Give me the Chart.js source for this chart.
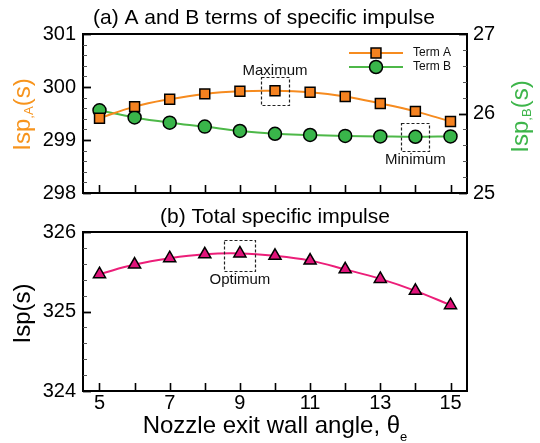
<!DOCTYPE html>
<html>
<head>
<meta charset="utf-8">
<script src="https://cdn.jsdelivr.net/npm/chart.js@4/dist/chart.umd.min.js"></script>
<style>
  html, body { margin: 0; padding: 0; background: #fff; }
  #wrap { position: relative; width: 540px; height: 443px; }
  #topBox { position: absolute; left: 0; top: 0; width: 540px; height: 215px; }
  #botBox { position: absolute; left: 0; top: 200px; width: 540px; height: 243px; }
</style>
</head>
<body>
<div id="wrap">
  <div id="topBox"><canvas id="topChart"></canvas></div>
  <div id="botBox"><canvas id="botChart"></canvas></div>
</div>
<script>
// Nozzle exit wall angle (deg)
const angles = [5, 6, 7, 8, 9, 10, 11, 12, 13, 14, 15];
// Term A of specific impulse (s), left axis of panel (a)
const termA = [299.41, 299.63, 299.77, 299.87, 299.92, 299.93, 299.90, 299.82, 299.69, 299.54, 299.35];
// Term B of specific impulse (s), right axis of panel (a)
const termB = [26.04, 25.95, 25.885, 25.835, 25.78, 25.745, 25.73, 25.718, 25.712, 25.707, 25.712];
// Total specific impulse (s), panel (b)
const totalIsp = [325.47, 325.59, 325.67, 325.72, 325.73, 325.70, 325.64, 325.53, 325.41, 325.26, 325.08];

const xTickLabels = [5, 7, 9, 11, 13, 15];
const yTicksA = [298, 299, 300, 301];
const yTicksB = [25, 26, 27];
const yTicksTotal = [324, 325, 326];

const FONT = "'Liberation Sans', Arial, Helvetica, sans-serif";
const ORANGE_LINE = '#F68B1F', ORANGE_FILL = '#F58220';
const GREEN_LINE = '#4DB848', GREEN_FILL = '#39B54A';
const PINK_LINE = '#EC1E79', PINK_FILL = '#E0137A';
const X_MIN = 4.53, X_MAX = 15.47;

// text made of runs; each run has its own size and baseline shift
function runsWidth(ctx, runs) {
  let w = 0;
  runs.forEach(r => { ctx.font = r.size + 'px ' + FONT; w += ctx.measureText(r.t).width; });
  return w;
}
function drawRuns(ctx, runs, x, y, color) {
  ctx.fillStyle = color;
  ctx.textBaseline = 'alphabetic';
  ctx.textAlign = 'left';
  runs.forEach(r => {
    ctx.font = r.size + 'px ' + FONT;
    ctx.fillText(r.t, x, y + (r.dy || 0));
    x += ctx.measureText(r.t).width;
  });
}
function drawHorizontalTitle(ctx, runs, cx, baseline, color) {
  const w = runsWidth(ctx, runs);
  drawRuns(ctx, runs, cx - w / 2, baseline, color);
}
function drawVerticalTitle(ctx, runs, baselineX, cy, color) {
  const w = runsWidth(ctx, runs);
  ctx.save();
  ctx.translate(baselineX, cy);
  ctx.rotate(-Math.PI / 2);
  drawRuns(ctx, runs, -w / 2, 0, color);
  ctx.restore();
}

function drawFrame(ctx, area) {
  ctx.save();
  ctx.strokeStyle = '#000';
  ctx.lineWidth = 2;
  ctx.strokeRect(area.left, area.top, area.right - area.left, area.bottom - area.top);
  ctx.restore();
}

// inward tick marks along the bottom edge
function drawXTicks(ctx, xs, area) {
  ctx.save();
  ctx.strokeStyle = '#000';
  ctx.lineWidth = 1.6;
  angles.forEach(v => {
    const px = Math.round(xs.getPixelForValue(v)) + 0.5;
    ctx.beginPath();
    ctx.moveTo(px, area.bottom);
    ctx.lineTo(px, area.bottom - 8);
    ctx.stroke();
  });
  ctx.restore();
}

// inward major/minor ticks along a vertical edge (minor every 0.2)
function drawYTicks(ctx, ys, edgeX, dir) {
  ctx.save();
  ctx.strokeStyle = '#000';
  const n = Math.round((ys.max - ys.min) / 0.2);
  for (let i = 0; i <= n; i++) {
    const v = ys.min + i * 0.2;
    const major = i % 5 === 0;
    const py = Math.round(ys.getPixelForValue(v)) + 0.5;
    ctx.lineWidth = major ? 1.8 : 1;
    ctx.strokeStyle = major ? '#000' : '#555';
    ctx.beginPath();
    ctx.moveTo(edgeX, py);
    ctx.lineTo(edgeX + dir * (major ? 8 : 4), py);
    ctx.stroke();
  }
  ctx.restore();
}

function dashedBox(ctx, cx, cy, size) {
  ctx.save();
  ctx.strokeStyle = '#222';
  ctx.lineWidth = 1.2;
  ctx.setLineDash([3, 2]);
  ctx.strokeRect(Math.round(cx - size / 2) + 0.5, Math.round(cy - size / 2) + 0.5, size, size);
  ctx.restore();
}

function note(ctx, text, cx, y) {
  ctx.save();
  ctx.font = '15px ' + FONT;
  ctx.fillStyle = '#111';
  ctx.textAlign = 'center';
  ctx.textBaseline = 'alphabetic';
  ctx.fillText(text, cx, y);
  ctx.restore();
}

function legendMarker(ctx, style, x, y, r, fill) {
  ctx.save();
  ctx.fillStyle = fill;
  ctx.strokeStyle = '#000';
  ctx.lineWidth = 1.5;
  ctx.beginPath();
  if (style === 'rect') {
    const s = r * Math.SQRT1_2;
    ctx.rect(x - s, y - s, 2 * s, 2 * s);
  } else {
    ctx.arc(x, y, r, 0, Math.PI * 2);
  }
  ctx.fill();
  ctx.stroke();
  ctx.restore();
}

const topDecor = {
  id: 'topDecor',
  afterDatasetsDraw(chart) {
    const ctx = chart.ctx, area = chart.chartArea;
    const xs = chart.scales.x, ya = chart.scales.y, yb = chart.scales.y1;
    drawFrame(ctx, area);
    drawXTicks(ctx, xs, area);
    drawYTicks(ctx, ya, area.left, 1);
    drawYTicks(ctx, yb, area.right, -1);

    // maximum of term A
    const iMax = termA.indexOf(Math.max(...termA));
    const mx = xs.getPixelForValue(angles[iMax]), my = ya.getPixelForValue(termA[iMax]);
    dashedBox(ctx, mx, my, 28);
    note(ctx, 'Maximum', mx, my - 16);

    // minimum of term B
    const iMin = termB.indexOf(Math.min(...termB));
    const nx = xs.getPixelForValue(angles[iMin]), ny = yb.getPixelForValue(termB[iMin]);
    dashedBox(ctx, nx, ny, 28);
    note(ctx, 'Minimum', nx, ny + 27);

    // legend
    const lx0 = 349, lx1 = 403, mxL = 376, tx = 413;
    const rows = [
      { label: 'Term A', line: ORANGE_LINE, fill: ORANGE_FILL, style: 'rect', r: 7, y: 53 },
      { label: 'Term B', line: GREEN_LINE, fill: GREEN_FILL, style: 'circle', r: 6.5, y: 67 }
    ];
    rows.forEach(row => {
      ctx.save();
      ctx.strokeStyle = row.line;
      ctx.lineWidth = 2;
      ctx.beginPath();
      ctx.moveTo(lx0, row.y);
      ctx.lineTo(lx1, row.y);
      ctx.stroke();
      ctx.restore();
      legendMarker(ctx, row.style, mxL, row.y, row.r, row.fill);
      ctx.save();
      ctx.font = '12px ' + FONT;
      ctx.fillStyle = '#111';
      ctx.textBaseline = 'middle';
      ctx.textAlign = 'left';
      ctx.fillText(row.label, tx, row.y);
      ctx.restore();
    });

    // panel title and axis titles
    ctx.save();
    ctx.font = '21px ' + FONT;
    ctx.fillStyle = '#000';
    ctx.textAlign = 'center';
    ctx.textBaseline = 'middle';
    ctx.fillText('(a) A and B terms of specific impulse', 264, 18);
    ctx.restore();
    const cy = (area.top + area.bottom) / 2 + 1;
    drawVerticalTitle(ctx, [{ t: 'Isp', size: 24 }, { t: ',A', size: 13, dy: 3 }, { t: '(s)', size: 24 }], 30, cy, '#F7941D');
    drawVerticalTitle(ctx, [{ t: 'Isp', size: 24 }, { t: ',B', size: 13, dy: 3 }, { t: '(s)', size: 24 }], 528, cy + 2, '#3DB54A');
  }
};

const botDecor = {
  id: 'botDecor',
  afterDatasetsDraw(chart) {
    const ctx = chart.ctx, area = chart.chartArea;
    const xs = chart.scales.x, ys = chart.scales.y;
    drawFrame(ctx, area);
    drawXTicks(ctx, xs, area);
    drawYTicks(ctx, ys, area.left, 1);

    const iOpt = totalIsp.indexOf(Math.max(...totalIsp));
    const ox = xs.getPixelForValue(angles[iOpt]), oy = ys.getPixelForValue(totalIsp[iOpt]);
    dashedBox(ctx, ox, oy + 2, 31);
    note(ctx, 'Optimum', ox, oy + 2 + 15.5 + 13);

    ctx.save();
    ctx.font = '21px ' + FONT;
    ctx.fillStyle = '#000';
    ctx.textAlign = 'center';
    ctx.textBaseline = 'middle';
    ctx.fillText('(b) Total specific impulse', (area.left + area.right) / 2, 17);
    ctx.restore();
    drawVerticalTitle(ctx, [{ t: 'Isp(s)', size: 24 }], 30, (area.top + area.bottom) / 2 + 2, '#000');
    drawHorizontalTitle(ctx, [{ t: 'Nozzle exit wall angle, \u03B8', size: 24 }, { t: 'e', size: 13, dy: 8 }],
      (area.left + area.right) / 2, 233, '#000');
  }
};

const hiddenGrid = { display: false, drawTicks: false };
const tickFont = { family: FONT, size: 20 };

function xScale(showLabels, height) {
  return {
    type: 'linear', min: X_MIN, max: X_MAX,
    grid: hiddenGrid, border: { display: false },
    afterBuildTicks: s => { s.ticks = xTickLabels.map(v => ({ value: v })); },
    ticks: { display: showLabels, font: tickFont, color: '#000', padding: 0, maxRotation: 0, autoSkip: false },
    afterFit: s => { s.height = height; }
  };
}
function yScale(pos, min, max, ticks, width) {
  return {
    type: 'linear', position: pos, min: min, max: max,
    grid: hiddenGrid, border: { display: false },
    afterBuildTicks: s => { s.ticks = ticks.map(v => ({ value: v })); },
    ticks: { font: tickFont, color: '#000', padding: pos === 'left' ? 7 : 6 },
    afterFit: s => { s.width = width; }
  };
}

const pointsOf = ys => angles.map((a, i) => ({ x: a, y: ys[i] }));

new Chart(document.getElementById('topChart'), {
  type: 'line',
  data: {
    datasets: [
      {
        label: 'Term A', data: pointsOf(termA), yAxisID: 'y',
        borderColor: ORANGE_LINE, borderWidth: 2, tension: 0.4,
        pointStyle: 'rect', pointRadius: 7, pointBackgroundColor: ORANGE_FILL,
        pointBorderColor: '#000', pointBorderWidth: 1.5
      },
      {
        label: 'Term B', data: pointsOf(termB), yAxisID: 'y1',
        borderColor: GREEN_LINE, borderWidth: 2, tension: 0.4,
        pointStyle: 'circle', pointRadius: 6.5, pointBackgroundColor: GREEN_FILL,
        pointBorderColor: '#000', pointBorderWidth: 1.5
      }
    ]
  },
  options: {
    responsive: true, maintainAspectRatio: false, animation: false, devicePixelRatio: 1,
    layout: { padding: { top: 34, left: 0, right: 0, bottom: 0 } },
    plugins: { legend: { display: false }, title: { display: false }, tooltip: { enabled: false } },
    scales: {
      x: xScale(false, 22),
      y: yScale('left', 298, 301, yTicksA, 83),
      y1: yScale('right', 25, 27, yTicksB, 73)
    }
  },
  plugins: [topDecor]
});

new Chart(document.getElementById('botChart'), {
  type: 'line',
  data: {
    datasets: [
      {
        label: 'Total', data: pointsOf(totalIsp), yAxisID: 'y',
        borderColor: PINK_LINE, borderWidth: 2, tension: 0.4,
        pointStyle: 'triangle', pointRadius: 7, pointBackgroundColor: PINK_FILL,
        pointBorderColor: '#000', pointBorderWidth: 1.5
      }
    ]
  },
  options: {
    responsive: true, maintainAspectRatio: false, animation: false, devicePixelRatio: 1,
    layout: { padding: { top: 32, left: 0, right: 73, bottom: 0 } },
    plugins: { legend: { display: false }, title: { display: false }, tooltip: { enabled: false } },
    scales: {
      x: xScale(true, 52),
      y: yScale('left', 324, 326, yTicksTotal, 83)
    }
  },
  plugins: [botDecor]
});
</script>
</body>
</html>
